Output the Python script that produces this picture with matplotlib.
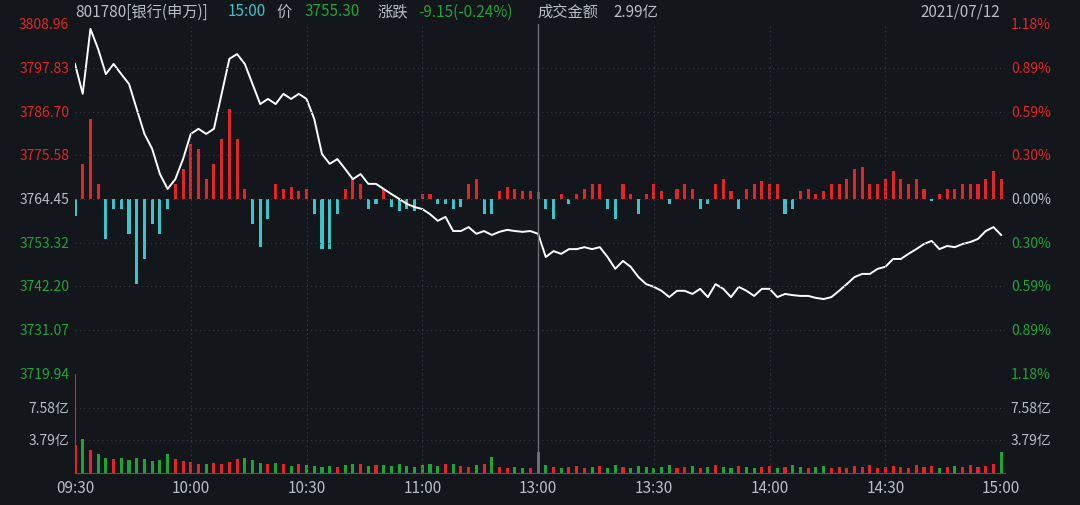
import matplotlib
matplotlib.use("Agg")
import matplotlib.pyplot as plt
import numpy as np

plt.rcParams['font.family'] = ['Noto Sans CJK SC', 'DejaVu Sans']

base = 3764.45
# price every 2 minutes, 09:30 .. 11:30 / 13:00 .. 15:00 (240 trading minutes)
prices = [3798.8, 3791.2, 3807.7, 3802.6, 3796.2, 3798.8, 3796.2, 3793.7, 3787.3, 3781.0,
          3777.2, 3770.8, 3767.0, 3769.5, 3774.6, 3781.0, 3782.3, 3781.0, 3782.3, 3791.2,
          3800.1, 3801.3, 3798.8, 3793.7, 3788.6, 3789.9, 3788.6, 3791.2, 3789.9, 3791.2,
          3789.9, 3784.8, 3775.9, 3773.4, 3774.6, 3772.1, 3769.5, 3770.8, 3768.3, 3768.3,
          3767.0, 3765.7, 3764.5, 3763.2, 3762.4, 3761.9, 3760.6, 3758.9, 3759.9, 3756.3,
          3756.3, 3757.3, 3755.6, 3756.3, 3755.3, 3756.1, 3756.6, 3756.3, 3756.1, 3756.3,
          3755.6, 3749.7, 3751.2, 3750.5, 3751.7, 3751.7, 3752.2, 3751.7, 3752.2, 3749.7,
          3746.7, 3748.7, 3747.2, 3744.6, 3742.8, 3742.1, 3741.1, 3739.5, 3741.1, 3741.1,
          3740.3, 3741.6, 3739.5, 3742.8, 3741.6, 3739.5, 3742.1, 3741.1, 3739.8, 3741.6,
          3741.6, 3739.5, 3740.3, 3740.0, 3739.8, 3739.8, 3739.3, 3739.0, 3739.5, 3741.1,
          3742.8, 3744.6, 3745.4, 3745.4, 3746.7, 3747.2, 3749.2, 3749.2, 3750.5, 3751.7,
          3753.0, 3753.8, 3751.7, 3752.5, 3752.2, 3753.0, 3753.5, 3754.3, 3756.3, 3757.3,
          3755.3]
# buy/sell strength bars (arbitrary units, + red / - cyan)
strength = [-17, 35, 80, 15, -40, -10, -10, -35, -85, -60, -25, -35, -10, 15, 30, 55, 50, 20, 35, 60,
            90, 60, 10, -25, -48, -20, 15, 10, 12, 8, 10, -15, -50, -50, -15, 10, 20, 15, -10, -5,
            10, -8, -12, -10, -12, 5, 5, -5, -5, -10, -8, 15, 20, -15, -15, 8, 12, 10, 8, 8,
            7, -10, -20, 5, -5, 5, 10, 15, 15, -10, -20, 15, 5, -15, 5, 15, 8, -5, 10, 15,
            10, -10, -5, 15, 20, 8, -10, 10, 15, 18, 15, 15, -15, -10, 8, 10, 5, 8, 15, 15,
            20, 30, 32, 15, 15, 20, 28, 20, 15, 20, 10, -2, 5, 10, 10, 15, 15, 15, 20, 28, 20]
# volume in 亿
volume = [3.3, 4.0, 2.7, 2.2, 1.8, 1.6, 1.7, 1.5, 1.7, 1.6, 1.4, 1.5, 2.2, 1.6, 1.4, 1.3, 1.0, 1.1, 1.2, 1.0,
          1.3, 1.6, 1.7, 1.5, 1.2, 1.1, 1.2, 1.0, 0.8, 1.1, 0.9, 0.8, 0.7, 0.8, 0.7, 0.9, 1.1, 1.0, 0.8, 0.9,
          0.9, 0.8, 1.0, 0.8, 0.7, 0.9, 1.0, 0.8, 1.0, 1.1, 0.8, 0.7, 0.9, 1.0, 1.9, 0.7, 0.6, 0.7, 0.6, 0.6,
          2.4, 0.9, 0.7, 0.6, 0.7, 0.8, 0.6, 0.7, 0.8, 0.6, 0.9, 0.7, 0.6, 0.8, 0.7, 0.6, 0.7, 0.9, 0.6, 0.7,
          0.8, 0.6, 0.7, 0.9, 0.7, 0.6, 0.8, 0.7, 0.6, 0.7, 0.8, 0.6, 0.7, 0.9, 0.7, 0.6, 0.7, 0.8, 0.6, 0.7,
          0.6, 0.8, 0.7, 0.9, 0.6, 0.7, 0.8, 0.7, 0.6, 0.9, 0.7, 0.8, 0.6, 0.7, 0.8, 0.7, 0.9, 0.7, 0.8, 1.0, 2.4]

price_ticks = [3808.96, 3797.83, 3786.70, 3775.58, 3764.45, 3753.32, 3742.20, 3731.07, 3719.94]
pct_labels = ['1.18%', '0.89%', '0.59%', '0.30%', '0.00%', '0.30%', '0.59%', '0.89%', '1.18%']
vol_ticks = [3.79, 7.58]
time_labels = ['09:30', '10:00', '10:30', '11:00', '13:00', '13:30', '14:00', '14:30', '15:00']

BG = '#13161b'
RED = '#e0262b'
GREEN = '#1fa33c'
CYAN = '#3cc4c8'
GRAY = '#b8bcc4'
GRID = '#3a3d44'

fig = plt.figure(figsize=(10.8, 5.06), dpi=100, facecolor=BG)
W, H = 1080, 506
L, R = 75 / W, 1005 / W
ax = fig.add_axes([L, (H - 375) / H, R - L, 350 / H], facecolor=BG)
axv = fig.add_axes([L, (H - 474) / H, R - L, 99 / H], facecolor=BG, sharex=ax)

t = np.linspace(0, 240, len(prices))
st = np.array(strength) * 0.2543
ax.bar(t, st, bottom=base, width=0.8, color=[RED if s > 0 else CYAN for s in st])
ax.plot(t, prices, color='white', lw=1.4)
ax.set_ylim(price_ticks[-1], price_ticks[0])
ax.set_xlim(0, 241)

pr = np.array(prices)
vcol = [RED] + [RED if pr[i] >= pr[i - 1] else GREEN for i in range(1, len(pr))]
axv.bar(t, volume, width=0.8, color=vcol)
axv.set_ylim(0, 11.5)

for a in (ax, axv):
    for s in a.spines.values():
        s.set_visible(False)
    a.tick_params(length=0)
    a.set_yticks([])
axv.spines['left'].set_visible(True)
axv.spines['left'].set_color(RED)
axv.spines['bottom'].set_visible(True)
axv.spines['bottom'].set_color('#555')

for p in price_ticks[1:]:
    ax.axhline(p, color=GRID, lw=0.8, ls=(0, (1, 3)))
for v in vol_ticks:
    axv.axhline(v, color=GRID, lw=0.8, ls=(0, (1, 3)))
for k in range(1, 8):
    x = k * 30
    if k == 4:
        ax.axvline(x, color='#6a6d74', lw=1)
        axv.axvline(x, color='#6a6d74', lw=1)
    else:
        ax.axvline(x, color=GRID, lw=0.8, ls=(0, (1, 3)))
        axv.axvline(x, color=GRID, lw=0.8, ls=(0, (1, 3)))

for i, (p, lab) in enumerate(zip(price_ticks, pct_labels)):
    c = RED if i < 4 else (GRAY if i == 4 else GREEN)
    ax.text(-1.5, p, f'{p:.2f}', color=c, ha='right', va='center', fontsize=10)
    ax.text(242.5, p, lab, color=c, ha='left', va='center', fontsize=10)
for v in vol_ticks:
    axv.text(-1.5, v, f'{v:.2f}亿', color=GRAY, ha='right', va='center', fontsize=10)
    axv.text(242.5, v, f'{v:.2f}亿', color=GRAY, ha='left', va='center', fontsize=10)

axv.set_xticks(np.arange(0, 241, 30))
axv.set_xticklabels(time_labels, color=GRAY, fontsize=11)
axv.tick_params(axis='x', pad=4)
plt.setp(ax.get_xticklabels(), visible=False)

y = 1 - 12 / H
parts = [('801780[银行(申万)]', GRAY, 75), ('15:00', CYAN, 228), ('价', GRAY, 276),
         ('3755.30', GREEN, 305), ('涨跌', GRAY, 378), ('-9.15(-0.24%)', GREEN, 418),
         ('成交金额', GRAY, 537), ('2.99亿', GRAY, 613)]
for txt, c, x in parts:
    fig.text(x / W, y, txt, color=c, fontsize=11, va='center', ha='left')
fig.text(1000 / W, y, '2021/07/12', color=GRAY, fontsize=11, va='center', ha='right')

fig.savefig('out.png', dpi=100, facecolor=BG)
